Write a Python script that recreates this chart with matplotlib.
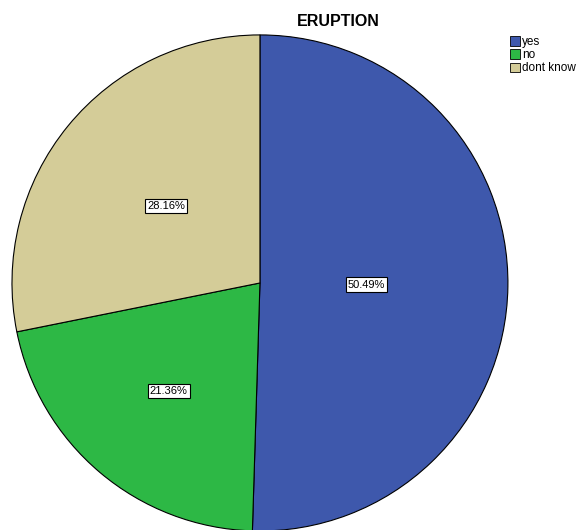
import numpy as np
import matplotlib.pyplot as plt
from matplotlib.patches import Patch

plt.rcParams['font.family'] = ['Liberation Sans', 'DejaVu Sans']

categories = ['yes', 'no', 'dont know']
percents = [50.49, 21.36, 28.16]
colors = ['#3E58AC', '#2DB845', '#D4CC98']
label_dist = [0.43, 0.57, 0.49]

fig = plt.figure(figsize=(5.76, 5.30), dpi=100)
ax = fig.add_axes([0.0208, -0.0019, 0.861, 0.936])
wedges, _ = ax.pie(percents, colors=colors, startangle=90, counterclock=False,
                   wedgeprops=dict(edgecolor='black', linewidth=0.8))
ax.set_xlim(-1, 1)
ax.set_ylim(-1, 1)
ax.set_aspect('auto')

# percentage boxes at each slice's middle angle
for w, p, d in zip(wedges, percents, label_dist):
    ang = np.deg2rad((w.theta1 + w.theta2) / 2)
    ax.text(d * np.cos(ang), d * np.sin(ang), f'{p:.2f}%', ha='center', va='center',
            fontsize=8, bbox=dict(facecolor='white', edgecolor='black',
                                  linewidth=0.8, pad=1.5))

fig.text(0.588, 0.960, 'ERUPTION', ha='center', va='center', fontsize=11.5,
         fontweight='bold')

handles = [Patch(facecolor=c, edgecolor='black', linewidth=0.6) for c in colors]
fig.legend(handles, categories, loc='upper left', bbox_to_anchor=(0.885, 0.932),
           frameon=False, fontsize=8.5, handlelength=0.85, handleheight=0.85,
           handletextpad=0.2, labelspacing=0.1, borderpad=0, borderaxespad=0)

fig.savefig('out.png', dpi=100)
